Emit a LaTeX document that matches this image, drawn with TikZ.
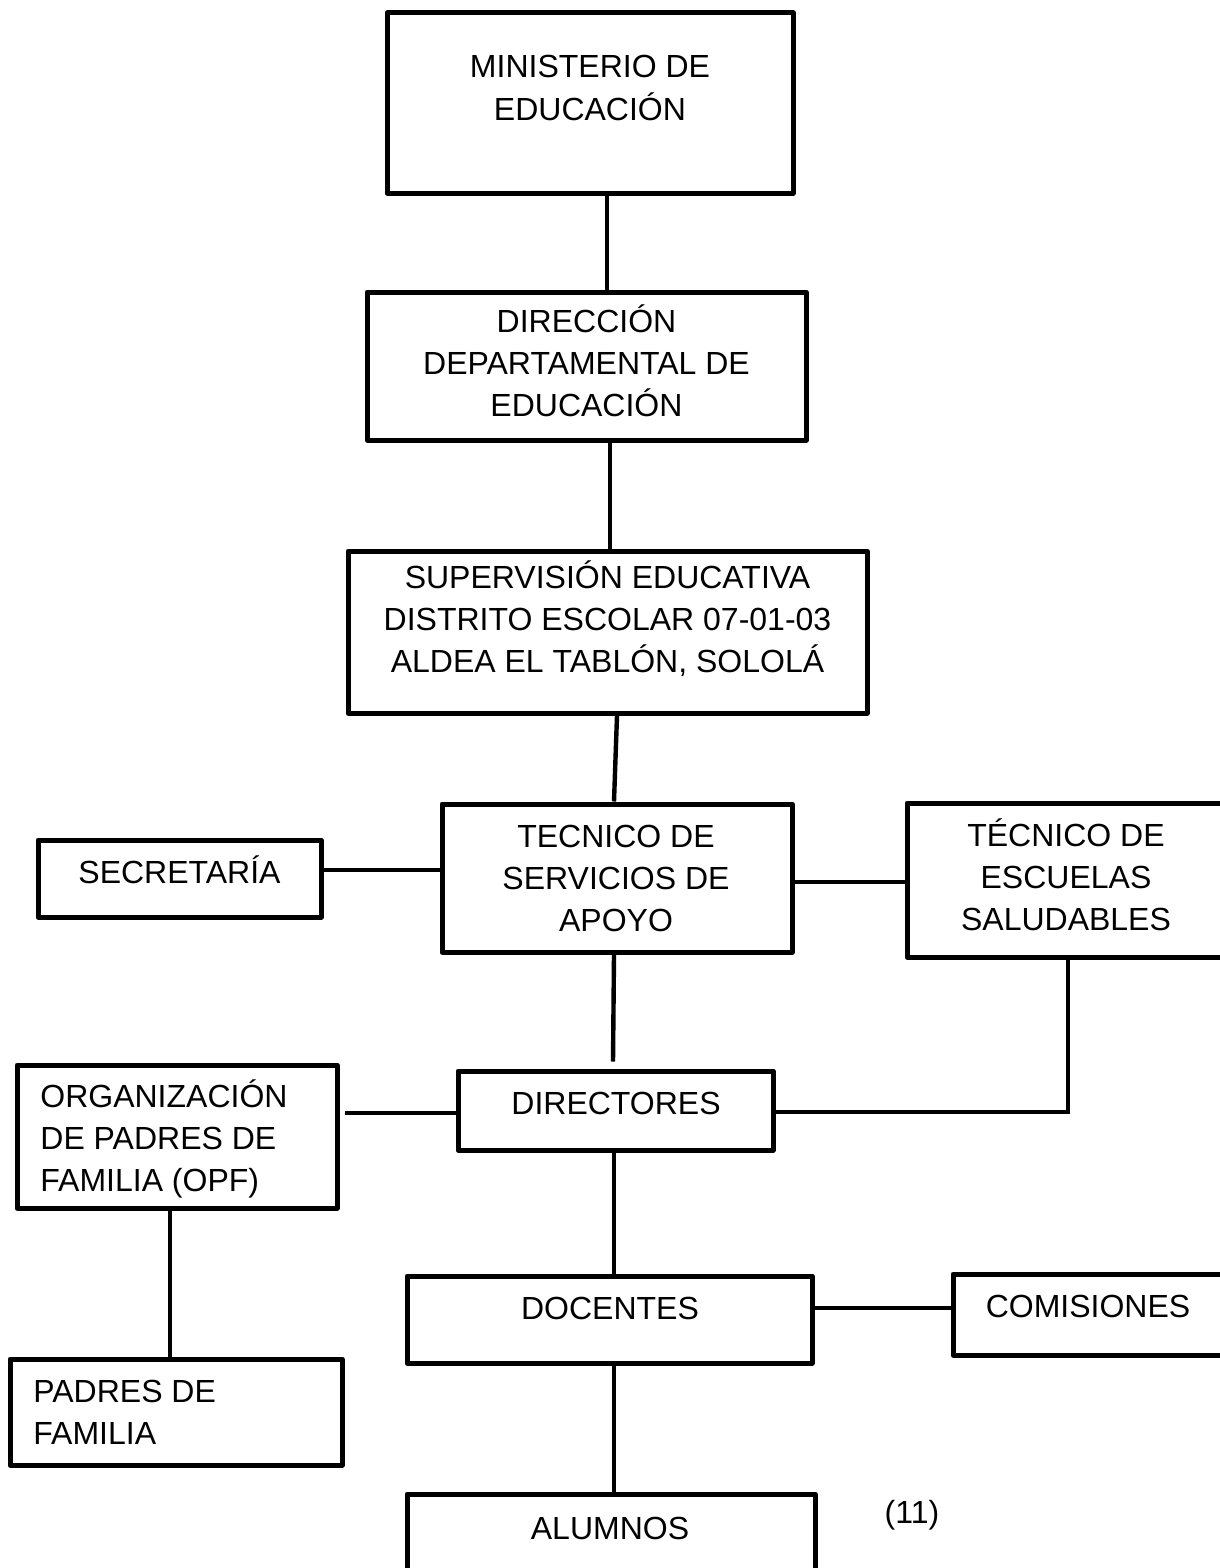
\documentclass[tikz,border=0pt]{standalone}
\usepackage{fontspec}
\setmainfont{Liberation Sans}
\usepackage{tikz}

\begin{document}
\begin{tikzpicture}[x=0.5pt,y=-0.5pt,
	box/.style={draw, line width=2.5pt, line join=round, inner sep=0pt},
	lbl/.style={align=center, anchor=base, inner sep=0pt, font=\fontsize{16}{21}\selectfont},
	lbll/.style={lbl, align=left, anchor=base west},
	link/.style={line width=2.2pt}]
\fill[white] (0,0) rectangle (1220,1568);
\useasboundingbox (0,0) rectangle (1220,1568);

\node[box, minimum width=203pt, minimum height=90pt] (min) at (590,103) {};
\node[box, minimum width=219.5pt, minimum height=74pt] (dep) at (586.5,366) {};
\node[box, minimum width=259.5pt, minimum height=81pt] (sup) at (607.5,632) {};
\node[box, minimum width=175pt, minimum height=74pt] (tec) at (617,878) {};
\node[box, minimum width=141.5pt, minimum height=38.5pt] (sec) at (179.5,878.5) {};
\node[box, minimum width=159pt, minimum height=77pt] (esc) at (1066,880) {};
\node[box, minimum width=160pt, minimum height=71.5pt] (opf) at (177,1136.5) {};
\node[box, minimum width=157.5pt, minimum height=39.5pt] (dir) at (615.5,1110.5) {};
\node[box, minimum width=202.5pt, minimum height=43.5pt] (doc) at (609.5,1319.5) {};
\node[box, minimum width=135pt, minimum height=40.5pt] (com) at (1088,1314.5) {};
\node[box, minimum width=166pt, minimum height=53pt] (pad) at (176,1412) {};
\node[box, minimum width=204pt, minimum height=60pt] (alu) at (611,1554) {};

\node[lbl] (tmin) at (590,120) {MINISTERIO DE\\EDUCACIÓN};
\node[lbl] (tdep) at (586.5,416) {DIRECCIÓN\\DEPARTAMENTAL DE\\EDUCACIÓN};
\node[lbl] (tsup) at (607.5,672) {SUPERVISIÓN EDUCATIVA\\DISTRITO ESCOLAR 07-01-03\\ALDEA EL TABLÓN, SOLOLÁ};
\node[lbl] (ttec) at (616,931) {TECNICO DE\\SERVICIOS DE\\APOYO};
\node[lbl] (tsec) at (179.5,883) {SECRETARÍA};
\node[lbl] (tesc) at (1066,930) {TÉCNICO DE\\ESCUELAS\\SALUDABLES};
\node[lbll] (topf) at (40,1191) {ORGANIZACIÓN\\DE PADRES DE\\FAMILIA (OPF)};
\node[lbl] (tdir) at (616,1114) {DIRECTORES};
\node[lbl] (tdoc) at (610,1319) {DOCENTES};
\node[lbl] (tcom) at (1088,1317) {COMISIONES};
\node[lbll] (tpad) at (33,1444) {PADRES DE\\FAMILIA};
\node[lbl] (talu) at (610,1539) {ALUMNOS};
\node[lbl] (nota) at (912,1523) {(11)};

\draw[link] ([xshift=8.5pt]min.south) -- ([xshift=10.25pt]dep.north);
\draw[link] ([xshift=11.75pt]dep.south) -- ([xshift=1.25pt]sup.north);
\draw[link] ([xshift=4.75pt]sup.south) -- ([xshift=-1.5pt]tec.north);
\draw[link] ([yshift=4pt]tec.west) -- ([yshift=4pt]tec.west -| sec.east);
\draw[link] ([yshift=-2pt]tec.east) -- ([yshift=-2pt]tec.east -| esc.west);
\draw[link] ([xshift=-1.5pt]tec.south) -- ([xshift=-1.25pt,yshift=3.5pt]dir.north);
\draw[link] ([yshift=-1.25pt]dir.west) -- ([yshift=-1.25pt,xshift=2.5pt]dir.west -| opf.east);
\draw[link] ([xshift=1pt]esc.south) |- ([yshift=-0.75pt]dir.east);
\draw[link] ([xshift=-0.75pt]dir.south) -- ([xshift=2.25pt]doc.north);
\draw[link] ([yshift=5.75pt]doc.east) -- ([yshift=5.75pt]doc.east -| com.west);
\draw[link] ([xshift=-3.5pt]opf.south) -- ([xshift=-3pt]pad.north);
\draw[link] ([xshift=2.25pt]doc.south) -- ([xshift=1.5pt]alu.north);
\end{tikzpicture}
\end{document}
